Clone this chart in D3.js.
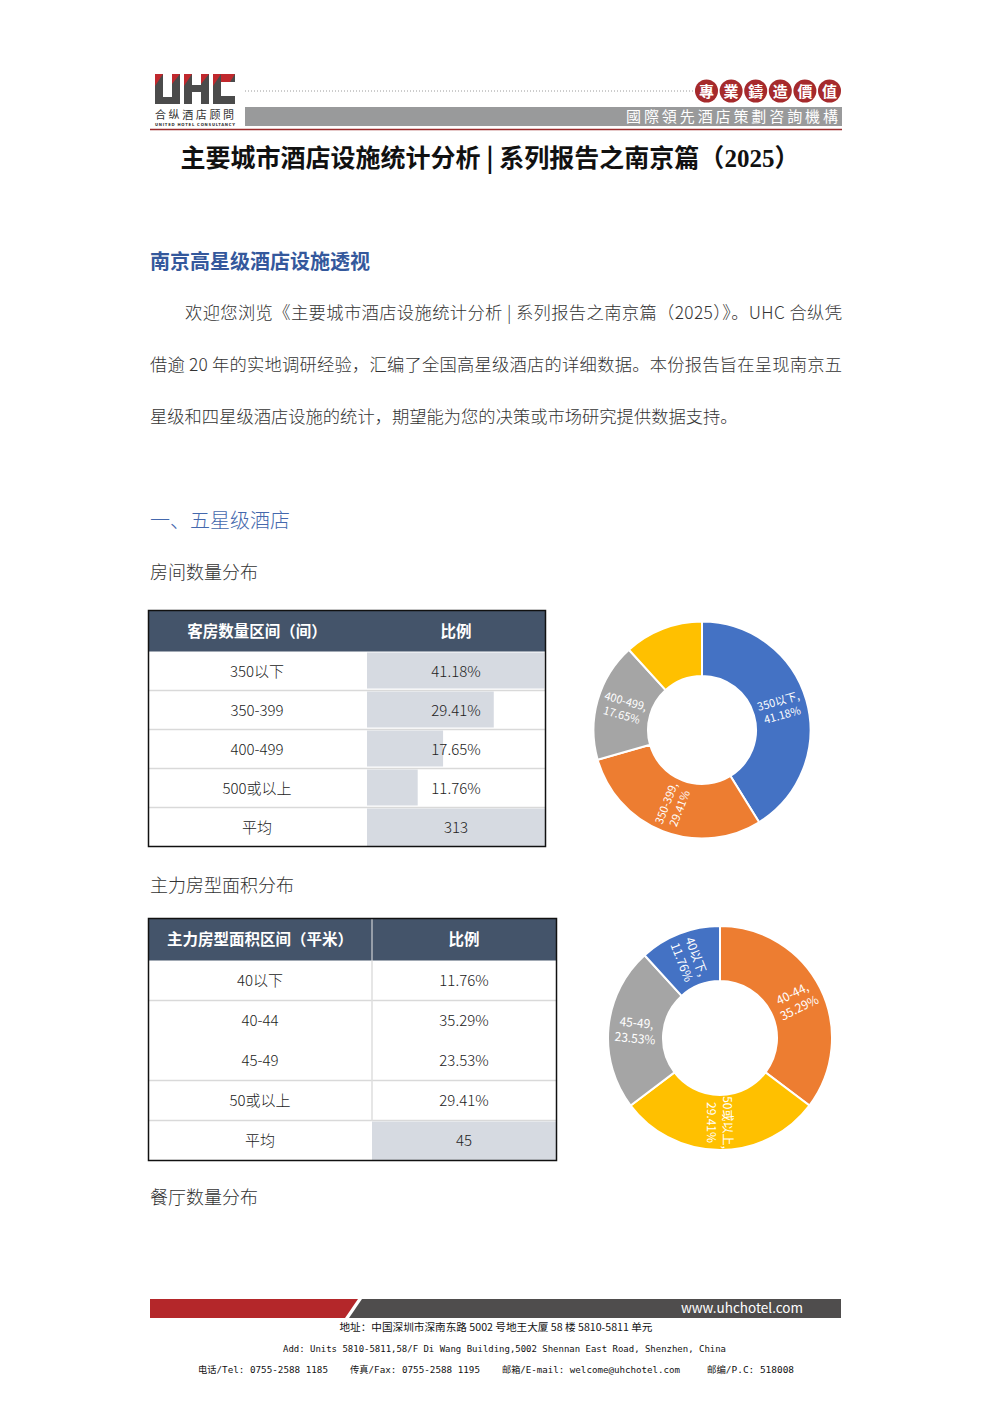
<!DOCTYPE html>
<html><head><meta charset="utf-8">
<script src="https://cdn.jsdelivr.net/npm/d3@7"></script>
<style>body{margin:0;background:#fff}svg{display:block}</style>
</head><body><svg id="page" width="992" height="1403"></svg>
<script>
// ---------- data ----------
const roomHeaders = ["客房数量区间（间）", "比例"];
const roomCats = ["350以下", "350-399", "400-499", "500或以上"];
const roomShares = [41.18, 29.41, 17.65, 11.76];
const roomAvgLabel = "平均";
const roomAvg = 313;
const roomLabelShown = [true, true, true, false];

const areaHeaders = ["主力房型面积区间（平米）", "比例"];
const areaCats = ["40以下", "40-44", "45-49", "50或以上"];
const areaShares = [11.76, 35.29, 23.53, 29.41];
const areaAvg = 45;
const areaDonutOrder = ["40-44", "50或以上", "45-49", "40以下"];

const catColors = ["#4472c4", "#ed7d31", "#a5a5a5", "#ffc000"];
const sealChars = ["專", "業", "鑄", "造", "價", "值"];

const FONT = '"Noto Sans CJK SC","Noto Sans",sans-serif';
const svg = d3.select("#page");
svg.append("rect").attr("width", 992).attr("height", 1403).attr("fill", "#fff");

// ---------- header ----------
const hdr = svg.append("g");
const logoGray = "#4b4b4b", logoRed = "#c0282d";
hdr.append("path").attr("fill", logoGray)
  .attr("d", "M155,74 h8 v23 h9 v-23 h8 v30 h-25 z");
hdr.append("path").attr("fill", logoGray)
  .attr("d", "M184,74 h8 v11 h9 v-11 h8 v30 h-8 v-12 h-9 v12 h-8 z");
hdr.append("path").attr("fill", logoGray)
  .attr("d", "M213,74 h22 v8 h-14 v14 h14 v8 h-22 z");
[[155, 74], [184, 74], [213, 74]].forEach(([x, y]) => {
  hdr.append("path").attr("fill", logoRed)
    .attr("d", `M${x},${y} h8 l-8,12 z`);
});
hdr.append("path").attr("fill", logoRed).attr("d", "M172,74 h8 l-8,10 z");
hdr.append("path").attr("fill", logoRed).attr("d", "M201,74 h8 l-8,10 z");
hdr.append("path").attr("fill", logoRed).attr("d", "M221,74 h14 l-5,8 h-9 z");
hdr.append("text").attr("x", 155).attr("y", 119).attr("font-family", FONT)
  .attr("font-size", 11).attr("fill", "#333").attr("textLength", 79)
  .attr("lengthAdjust", "spacing").text("合纵酒店顾問");
hdr.append("text").attr("x", 155).attr("y", 126).attr("font-family", '"DejaVu Sans Condensed",sans-serif')
  .attr("font-size", 4.2).attr("font-weight", "bold").attr("fill", "#333").attr("textLength", 80)
  .text("UNITED HOTEL CONSULTANCY");
hdr.append("line").attr("x1", 245).attr("x2", 693).attr("y1", 91).attr("y2", 91)
  .attr("stroke", "#9a9a9a").attr("stroke-width", 1).attr("stroke-dasharray", "1,2");
const sealX = d3.scalePoint().domain(sealChars).range([706.5, 829.5]);
sealChars.forEach(c => {
  hdr.append("circle").attr("cx", sealX(c)).attr("cy", 91).attr("r", 11.5).attr("fill", "#a62a2c");
  hdr.append("text").attr("x", sealX(c)).attr("y", 96.5).attr("text-anchor", "middle")
    .attr("font-family", FONT).attr("font-weight", "bold").attr("font-size", 15).attr("fill", "#fff").text(c);
});
hdr.append("rect").attr("x", 245).attr("y", 107).attr("width", 597).attr("height", 19).attr("fill", "#999a9b");
hdr.append("text").attr("x", 626).attr("y", 122).attr("font-family", FONT).attr("font-size", 15)
  .attr("fill", "#fff").attr("textLength", 212).attr("lengthAdjust", "spacing").text("國際領先酒店策劃咨詢機構");
hdr.append("line").attr("x1", 150).attr("x2", 842).attr("y1", 129.5).attr("y2", 129.5)
  .attr("stroke", "#9b2b2b").attr("stroke-width", 1.5);

// ---------- title & text ----------
const title = svg.append("text").attr("x", 490).attr("y", 167).attr("text-anchor", "middle")
  .attr("font-family", FONT).attr("font-weight", "bold").attr("font-size", 25).attr("fill", "#111");
title.append("tspan").text("主要城市酒店设施统计分析 | 系列报告之南京篇（");
title.append("tspan").attr("font-family", '"Liberation Serif",serif').text("2025");
title.append("tspan").text("）");

svg.append("text").attr("x", 150).attr("y", 269).attr("font-family", FONT).attr("font-weight", "bold")
  .attr("font-size", 20).attr("fill", "#34589c").text("南京高星级酒店设施透视");

const paraLines = [
  {x: 185, y: 319, w: 657, t: "欢迎您浏览《主要城市酒店设施统计分析 | 系列报告之南京篇（2025）》。UHC 合纵凭"},
  {x: 150, y: 371, w: 692, t: "借逾 20 年的实地调研经验，汇编了全国高星级酒店的详细数据。本份报告旨在呈现南京五"},
  {x: 150, y: 423, w: null, t: "星级和四星级酒店设施的统计，期望能为您的决策或市场研究提供数据支持。"}
];
paraLines.forEach(l => {
  const t = svg.append("text").attr("x", l.x).attr("y", l.y).attr("font-family", FONT)
    .attr("font-weight", 300).attr("font-size", 17.3).attr("fill", "#333").text(l.t);
  if (l.w) t.attr("textLength", l.w).attr("lengthAdjust", "spacing");
});

svg.append("text").attr("x", 150).attr("y", 528).attr("font-family", FONT).attr("font-weight", 300)
  .attr("font-size", 20).attr("fill", "#4468ad").text("一、五星级酒店");
svg.append("text").attr("x", 150).attr("y", 579).attr("font-family", FONT).attr("font-weight", 300)
  .attr("font-size", 18).attr("fill", "#333").text("房间数量分布");
svg.append("text").attr("x", 150).attr("y", 892).attr("font-family", FONT).attr("font-weight", 300)
  .attr("font-size", 18).attr("fill", "#333").text("主力房型面积分布");
svg.append("text").attr("x", 150).attr("y", 1204).attr("font-family", FONT).attr("font-weight", 300)
  .attr("font-size", 18).attr("fill", "#333").text("餐厅数量分布");

// ---------- tables ----------
function drawTable(o) {
  const g = svg.append("g");
  const right = o.x + o.w;
  g.append("rect").attr("x", o.x).attr("y", o.y).attr("width", o.w).attr("height", o.headH).attr("fill", "#44546a");
  if (o.headSep) g.append("line").attr("x1", o.split).attr("x2", o.split).attr("y1", o.y).attr("y2", o.y + o.headH)
    .attr("stroke", "#e8e8e8").attr("stroke-width", 1);
  g.append("text").attr("x", o.labelCx).attr("y", o.y + o.headH / 2 + 5.5).attr("text-anchor", "middle")
    .attr("font-family", FONT).attr("font-weight", "bold").attr("font-size", 15.5).attr("fill", "#fff").text(o.headers[0]);
  g.append("text").attr("x", o.valueCx).attr("y", o.y + o.headH / 2 + 5.5).attr("text-anchor", "middle")
    .attr("font-family", FONT).attr("font-weight", "bold").attr("font-size", 15.5).attr("fill", "#fff").text(o.headers[1]);

  const rows = o.cats.map((c, i) => ({label: c, value: o.shares[i].toFixed(2) + "%", share: o.shares[i]}));
  rows.push({label: roomAvgLabel, value: String(o.avg), avg: true});
  const y = d3.scaleBand().domain(d3.range(rows.length)).range([o.y + o.headH, o.y + o.headH + o.rowH * rows.length]);
  const xb = d3.scaleLinear().domain([0, d3.max(o.shares)]).range([0, right - o.split - 1]);

  rows.forEach((r, i) => {
    const y0 = y(i);
    if (r.avg) {
      g.append("rect").attr("x", o.split).attr("y", y0 + 1).attr("width", right - o.split).attr("height", o.rowH - 1)
        .attr("fill", "#d6dae1");
    } else if (o.bars) {
      g.append("rect").attr("x", o.split).attr("y", y0 + 1).attr("width", xb(r.share)).attr("height", o.rowH - 3)
        .attr("fill", "#d6dae1");
    }
    g.append("text").attr("x", o.labelCx).attr("y", y0 + o.rowH / 2 + 5.5).attr("text-anchor", "middle")
      .attr("font-family", FONT).attr("font-weight", 300).attr("font-size", 15).attr("fill", "#222").text(r.label);
    g.append("text").attr("x", o.valueCx).attr("y", y0 + o.rowH / 2 + 5.5).attr("text-anchor", "middle")
      .attr("font-family", FONT).attr("font-weight", 300).attr("font-size", 15).attr("fill", "#222").text(r.value);
  });
  d3.range(1, rows.length).forEach(i => {
    if (o.skipLines && o.skipLines.includes(i)) return;
    g.append("line").attr("x1", o.x).attr("x2", right).attr("y1", y(i)).attr("y2", y(i))
      .attr("stroke", "#d9d9d9").attr("stroke-width", 1.5);
  });
  if (o.colSep) g.append("line").attr("x1", o.split).attr("x2", o.split).attr("y1", o.y + o.headH)
    .attr("y2", y(rows.length - 1)).attr("stroke", "#dedede").attr("stroke-width", 1.5);
  g.append("rect").attr("x", o.x).attr("y", o.y).attr("width", o.w)
    .attr("height", o.headH + o.rowH * rows.length).attr("fill", "none").attr("stroke", "#111").attr("stroke-width", 1.5);
}

drawTable({x: 148.5, y: 610.5, w: 397, split: 367, headH: 41, rowH: 39, headers: roomHeaders,
  cats: roomCats, shares: roomShares, avg: roomAvg, bars: true, labelCx: 257, valueCx: 456});
drawTable({x: 148.5, y: 918.5, w: 408, split: 372, headH: 42, rowH: 40, headers: areaHeaders,
  cats: areaCats, shares: areaShares, avg: areaAvg, bars: false, labelCx: 260, valueCx: 464,
  skipLines: [2], colSep: true, headSep: true});

// ---------- donuts ----------
function drawDonut(cx, cy, rO, rI, data, fontSize) {
  const g = svg.append("g").attr("transform", `translate(${cx},${cy})`);
  const pie = d3.pie().sort(null).value(d => d.share);
  const arc = d3.arc().innerRadius(rI).outerRadius(rO);
  const arcs = pie(data);
  g.selectAll("path").data(arcs).join("path").attr("d", arc)
    .attr("fill", d => d.data.color).attr("stroke", "#fff").attr("stroke-width", 2);
  arcs.filter(d => d.data.show).forEach(d => {
    const [lx, ly] = arc.centroid(d);
    const deg = (d.startAngle + d.endAngle) / 2 * 180 / Math.PI;
    const rot = Math.round(deg) <= 180 ? deg - 90 : deg - 270;
    const t = g.append("text").attr("transform", `translate(${lx},${ly}) rotate(${rot})`)
      .attr("text-anchor", "middle").attr("font-family", FONT).attr("font-size", fontSize).attr("fill", "#fff");
    t.append("tspan").attr("x", 0).attr("y", -fontSize * 0.25).text(d.data.cat + ",");
    t.append("tspan").attr("x", 0).attr("y", fontSize * 1.05).text(d.data.share.toFixed(2) + "%");
  });
}

drawDonut(702, 730, 108.5, 54, roomCats.map((c, i) => ({cat: c, share: roomShares[i], color: catColors[i], show: roomLabelShown[i]})), 11);
drawDonut(720, 1038, 112, 57, areaDonutOrder.map(c => {
  const i = areaCats.indexOf(c);
  return {cat: c, share: areaShares[i], color: catColors[i], show: true};
}), 12);

// ---------- footer ----------
svg.append("polygon").attr("points", "150,1299 358,1299 345,1318 150,1318").attr("fill", "#b4272a");
svg.append("polygon").attr("points", "362,1299 841,1299 841,1318 349,1318").attr("fill", "#4f4d4d");
svg.append("text").attr("x", 803).attr("y", 1313).attr("text-anchor", "end").attr("font-family", FONT)
  .attr("font-size", 13.5).attr("fill", "#fff").text("www.uhchotel.com");
svg.append("text").attr("x", 496).attr("y", 1331).attr("text-anchor", "middle").attr("font-family", FONT)
  .attr("font-size", 10).attr("fill", "#111").attr("textLength", 313).attr("lengthAdjust", "spacingAndGlyphs")
  .text("地址：中国深圳市深南东路 5002 号地王大厦 58 楼 5810-5811 单元");
svg.append("text").attr("x", 283).attr("y", 1352).attr("font-family", '"DejaVu Sans Mono",monospace')
  .attr("font-size", 9).attr("fill", "#111").attr("textLength", 443).attr("lengthAdjust", "spacingAndGlyphs")
  .text("Add: Units 5810-5811,58/F Di Wang Building,5002 Shennan East Road, Shenzhen, China");
const telParts = [
  {x: 198, w: 130, t: "电话/Tel: 0755-2588 1185"},
  {x: 350, w: 130, t: "传真/Fax: 0755-2588 1195"},
  {x: 502, w: 178, t: "邮箱/E-mail: welcome@uhchotel.com"},
  {x: 707, w: 87, t: "邮编/P.C: 518008"}
];
telParts.forEach(p => {
  svg.append("text").attr("x", p.x).attr("y", 1373).attr("font-family", '"DejaVu Sans Mono","Noto Sans CJK SC",monospace')
    .attr("font-size", 9).attr("fill", "#111").attr("textLength", p.w).attr("lengthAdjust", "spacingAndGlyphs").text(p.t);
});
</script></body></html>
